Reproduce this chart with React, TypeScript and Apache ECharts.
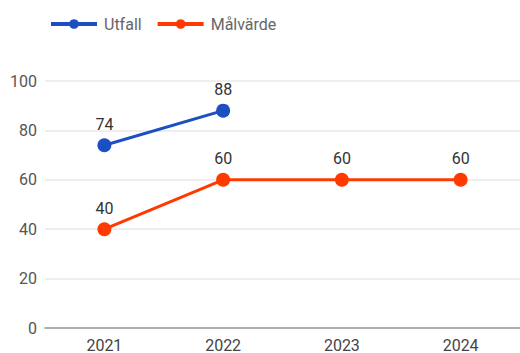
import React, { useEffect, useRef } from "react";
import * as echarts from "echarts";

const years = ["2021", "2022", "2023", "2024"];
const utfall: (number | null)[] = [74, 88, null, null];
const malvarde: number[] = [40, 60, 60, 60];
const yTicks = { min: 0, max: 100, interval: 20 };

export default function App() {
  const ref = useRef<HTMLDivElement>(null);
  useEffect(() => {
    if (!ref.current) return;
    const chart = echarts.init(ref.current, undefined, { renderer: "svg" });
    const font = "Roboto, 'Noto Sans', sans-serif";
    chart.setOption({
      animation: false,
      textStyle: { fontFamily: font },
      legend: {
        left: 44,
        top: 11,
        itemWidth: 46,
        itemHeight: 12,
        itemGap: 14,
        lineStyle: { width: 4 },
        textStyle: { color: "#666", fontSize: 16, fontFamily: font, padding: [0, 0, 0, 2] },
        data: ["Utfall", "Målvärde"],
      },
      grid: { left: 45, top: 81, width: 477, height: 248, containLabel: false },
      xAxis: {
        type: "category",
        data: years,
        boundaryGap: true,
        axisLine: { lineStyle: { color: "#999", width: 1.5 } },
        axisTick: { show: false },
        axisLabel: { color: "#444", fontSize: 16, margin: 9, fontFamily: font },
      },
      yAxis: {
        type: "value",
        min: yTicks.min,
        max: yTicks.max,
        interval: yTicks.interval,
        axisLine: { show: false },
        axisTick: { show: false },
        axisLabel: { color: "#555", fontSize: 16, margin: 8, fontFamily: font },
        splitLine: { lineStyle: { color: "#e8e8e8", width: 1.5 } },
      },
      series: [
        {
          name: "Utfall",
          type: "line",
          data: utfall,
          color: "#1c4fc2",
          symbol: "circle",
          symbolSize: 14,
          lineStyle: { width: 3 },
          label: { show: true, position: "top", distance: 6, color: "#333", fontSize: 16, fontFamily: font },
        },
        {
          name: "Målvärde",
          type: "line",
          data: malvarde,
          color: "#ff3a00",
          symbol: "circle",
          symbolSize: 14,
          lineStyle: { width: 3 },
          label: { show: true, position: "top", distance: 6, color: "#333", fontSize: 16, fontFamily: font },
        },
      ],
    });
    return () => chart.dispose();
  }, []);
  return <div ref={ref} style={{ width: 520, height: 353, position: "fixed", left: 0, top: 0, background: "#fff" }} />;
}
